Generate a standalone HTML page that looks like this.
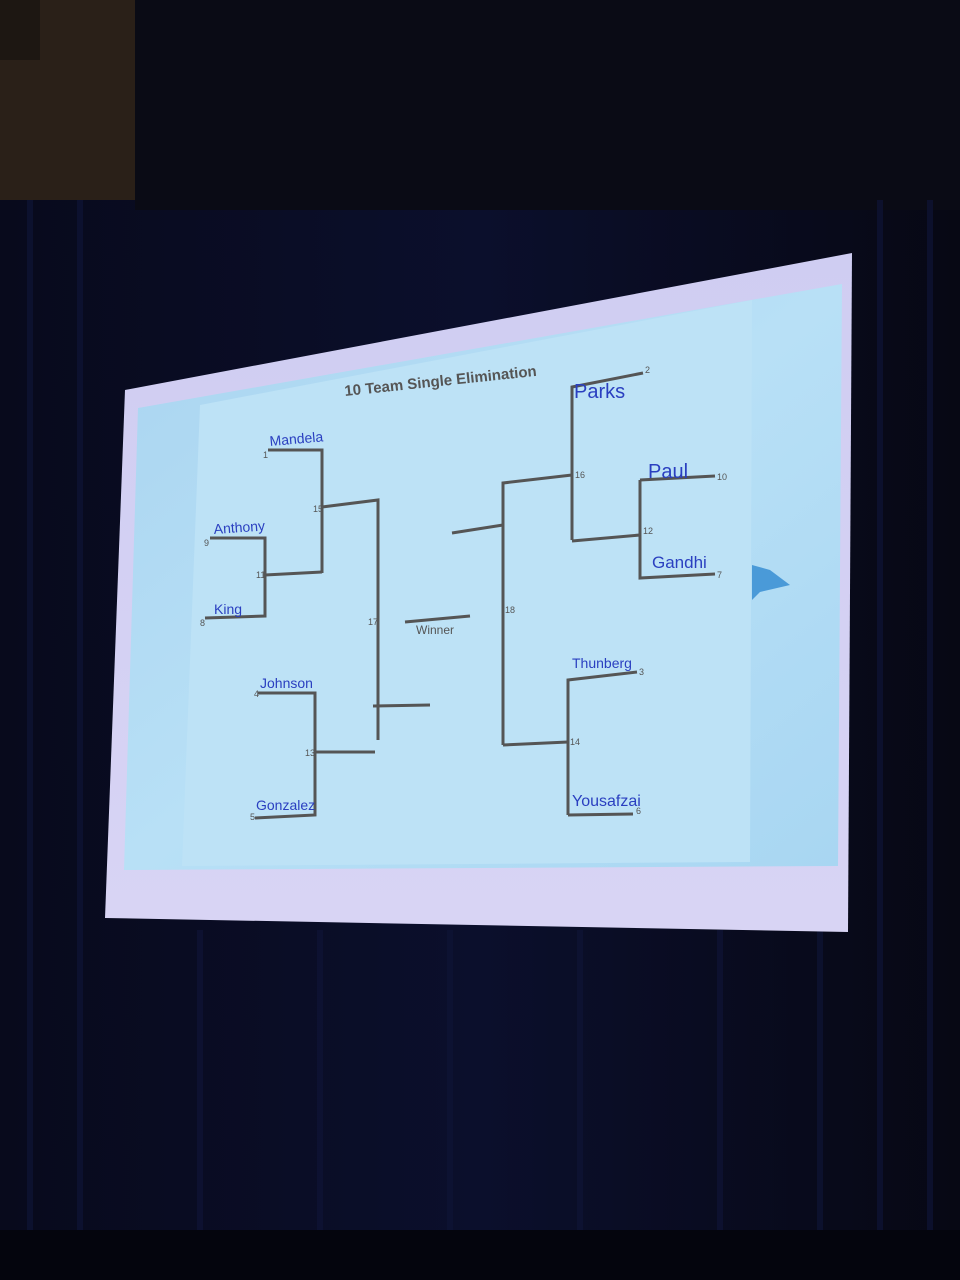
<!DOCTYPE html>
<html><head><meta charset="utf-8"><style>
html,body{margin:0;padding:0;background:#0a0b16;}
svg{display:block}
text{font-family:"Liberation Sans",sans-serif}
.h{font-family:"Liberation Sans",sans-serif;fill:#2a3fc0;font-size:14px}
.n{font-family:"Liberation Serif",serif;fill:#555;font-size:9px}
</style></head><body>
<svg width="960" height="1280" viewBox="0 0 960 1280" xmlns="http://www.w3.org/2000/svg">
<defs>
<linearGradient id="cur" x1="0" x2="1">
<stop offset="0" stop-color="#080a1c"/><stop offset="0.5" stop-color="#0b0f2c"/><stop offset="1" stop-color="#070814"/>
</linearGradient>
<linearGradient id="scr" x1="0" y1="0" x2="1" y2="1">
<stop offset="0" stop-color="#a9d4f0"/><stop offset="0.5" stop-color="#b8e0f6"/><stop offset="1" stop-color="#a8d6f2"/>
</linearGradient>
<linearGradient id="frm" x1="0" y1="0" x2="0" y2="1">
<stop offset="0" stop-color="#cfcdf2"/><stop offset="1" stop-color="#d8d4f4"/>
</linearGradient>
</defs>
<rect width="960" height="1280" fill="url(#cur)"/>
<rect x="0" y="0" width="135" height="200" fill="#2a2018"/>
<rect x="0" y="0" width="40" height="60" fill="#1d1712"/>
<rect x="135" y="0" width="825" height="210" fill="#0a0b15"/>
<g stroke="#0f1436" stroke-width="6" opacity="0.7">
<line x1="30" y1="200" x2="30" y2="1280"/><line x1="80" y1="200" x2="80" y2="1280"/>
<line x1="880" y1="200" x2="880" y2="1280"/><line x1="930" y1="200" x2="930" y2="1280"/>
<line x1="200" y1="930" x2="200" y2="1280"/><line x1="320" y1="930" x2="320" y2="1280"/>
<line x1="450" y1="930" x2="450" y2="1280"/><line x1="580" y1="930" x2="580" y2="1280"/>
<line x1="720" y1="930" x2="720" y2="1280"/><line x1="820" y1="930" x2="820" y2="1280"/>
</g>
<rect x="0" y="1230" width="960" height="50" fill="#04050d"/>
<polygon points="125,390 852,253 848,932 105,918" fill="url(#frm)"/>
<polygon points="138,408 842,284 838,866 124,870" fill="url(#scr)"/>
<polygon points="200,405 752,300 750,862 182,866" fill="#bde2f6"/>
<text x="345" y="396" font-size="15" font-weight="bold" fill="#555" transform="rotate(-6 345 396)">10 Team Single Elimination</text>
<g stroke="#555" stroke-width="3" fill="none">
<polyline points="268,450 322,450 322,573"/>
<polyline points="210,538 265,538 265,616 205,618"/>
<line x1="265" y1="575" x2="322" y2="572"/>
<polyline points="322,507 378,500 378,740"/>
<polyline points="258,693 315,693 315,815 255,818"/>
<line x1="315" y1="752" x2="375" y2="752"/>
<line x1="373" y1="706" x2="430" y2="705"/>
<line x1="405" y1="622" x2="470" y2="616"/>
<line x1="452" y1="533" x2="503" y2="525"/>
<polyline points="572,540 572,387 643,373"/>
<polyline points="503,745 503,483 572,475"/>
<polyline points="640,480 715,476"/>
<polyline points="640,480 640,578 715,574"/>
<line x1="572" y1="541" x2="640" y2="535"/>
<polyline points="568,815 568,680 637,672"/>
<line x1="568" y1="815" x2="633" y2="814"/>
<line x1="503" y1="745" x2="568" y2="742"/>
</g>
<text x="416" y="634" font-family="Liberation Serif" font-size="12" fill="#555">Winner</text>
<g class="n">
<text x="263" y="458">1</text><text x="204" y="546">9</text><text x="200" y="626">8</text>
<text x="254" y="697">4</text><text x="250" y="820">5</text>
<text x="645" y="373">2</text><text x="717" y="480">10</text><text x="717" y="578">7</text>
<text x="639" y="675">3</text><text x="636" y="814">6</text>
<text x="313" y="512">15</text><text x="256" y="578">11</text><text x="368" y="625">17</text>
<text x="305" y="756">13</text><text x="505" y="613">18</text><text x="575" y="478">16</text>
<text x="643" y="534">12</text><text x="570" y="745">14</text>
</g>
<g class="h">
<text x="270" y="446" transform="rotate(-5 270 446)">Mandela</text>
<text x="214" y="534" transform="rotate(-4 214 534)">Anthony</text>
<text x="214" y="614">King</text>
<text x="260" y="688">Johnson</text>
<text x="256" y="810">Gonzalez</text>
<text x="574" y="398" font-size="20">Parks</text>
<text x="648" y="478" font-size="20">Paul</text>
<text x="652" y="568" font-size="17">Gandhi</text>
<text x="572" y="668">Thunberg</text>
<text x="572" y="806" font-size="16">Yousafzai</text>
</g>
<polygon points="752,565 770,570 790,585 760,592 752,600" fill="#4a9ad8"/>
</svg>
</body></html>
